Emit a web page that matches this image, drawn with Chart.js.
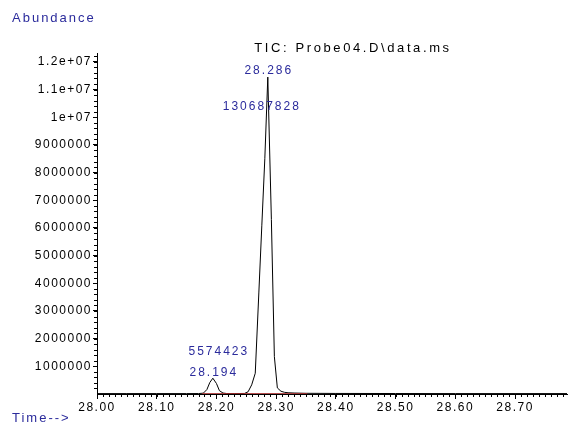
<!DOCTYPE html>
<html>
<head>
<meta charset="utf-8">
<script src="https://cdn.jsdelivr.net/npm/chart.js@4.4.1/dist/chart.umd.min.js"></script>
<style>
  html, body { margin: 0; padding: 0; background: #fff; }
  #wrap { width: 568px; height: 424px; position: relative; }
</style>
</head>
<body>
<div id="wrap"><canvas id="tic"></canvas></div>
<script>
// retention time (min) and abundance
const times = [28.000, 28.050, 28.100, 28.150, 28.170, 28.178, 28.184, 28.189, 28.194, 28.200, 28.205, 28.211, 28.217,
  28.230, 28.247, 28.253, 28.259, 28.265, 28.271, 28.276, 28.281, 28.286, 28.292, 28.297, 28.302, 28.308, 28.314,
  28.320, 28.330, 28.350, 28.400, 28.500, 28.600, 28.700, 28.787];
const abundance = [15000, 15000, 15000, 15000, 16000, 30000, 160000, 420000, 570000, 380000, 120000, 35000, 18000,
  15000, 20000, 80000, 330000, 750000, 3650000, 6100000, 8500000, 11450000, 6300000, 1350000, 220000, 100000, 60000,
  45000, 35000, 25000, 20000, 17000, 15000, 15000, 15000];

// integration baseline
const baseTimes = [28.176, 28.352];
const baseValues = [12000, 12000];

// peak annotations
const peakTimes = [28.194, 28.286];
const peakHeights = [570000, 11450000];
const peakAreas = ['5574423', '130687828'];

const xTicks = [28.0, 28.1, 28.2, 28.3, 28.4, 28.5, 28.6, 28.7];
const yTicks = [1000000, 2000000, 3000000, 4000000, 5000000, 6000000, 7000000, 8000000, 9000000, 10000000, 11000000, 12000000];
const yTickLabels = ['1000000', '2000000', '3000000', '4000000', '5000000', '6000000', '7000000', '8000000', '9000000',
  '1e+07', '1.1e+07', '1.2e+07'];

const blue = '#2b2b9c';
const FAMILY = '"Liberation Sans", Arial, sans-serif';

const extras = {
  id: 'extras',
  beforeDraw(chart) {
    chart.ctx.letterSpacing = '1.5px';
  },
  afterDraw(chart) {
    const ctx = chart.ctx;
    const xs = chart.scales.x, ys = chart.scales.y;
    ctx.save();
    ctx.strokeStyle = '#000';
    ctx.lineWidth = 1;
    // minor ticks
    ctx.beginPath();
    for (let i = 0; i <= 78; i++) {
      const px = Math.round(xs.getPixelForValue(28 + i * 0.01)) + 0.5;
      ctx.moveTo(px, xs.top);
      ctx.lineTo(px, xs.top + 3);
    }
    for (let i = 1; i <= 61; i++) {
      const py = Math.round(ys.getPixelForValue(i * 200000)) + 0.5;
      ctx.moveTo(ys.right, py);
      ctx.lineTo(ys.right - 3, py);
    }
    ctx.stroke();

    ctx.textBaseline = 'middle';
    // axis captions and title
    ctx.font = '13px ' + FAMILY;
    ctx.letterSpacing = '2px';
    ctx.fillStyle = blue;
    ctx.textAlign = 'left';
    ctx.fillText('Abundance', 12, 18);
    ctx.fillText('Time-->', 12, 418);
    ctx.letterSpacing = '2.6px';
    ctx.fillStyle = '#000';
    ctx.textAlign = 'center';
    ctx.fillText('TIC: Probe04.D\\data.ms', 353, 48);

    // peak labels
    ctx.font = '12px ' + FAMILY;
    ctx.letterSpacing = '2px';
    ctx.fillStyle = blue;
    peakTimes.forEach((t, i) => {
      const px = xs.getPixelForValue(t);
      const py = ys.getPixelForValue(peakHeights[i]);
      ctx.fillText(t.toFixed(3), px + 1, py - 6);
      ctx.fillText(peakAreas[i], px - (i === 1 ? 6 : -6), py + (i === 1 ? 30 : -27));
    });
    ctx.restore();
  }
};

new Chart(document.getElementById('tic'), {
  type: 'line',
  data: {
    datasets: [
      {
        data: baseTimes.map((t, i) => ({ x: t, y: baseValues[i] })),
        borderColor: '#a52a2a',
        borderWidth: 1,
        pointRadius: 0,
        tension: 0
      },
      {
        data: times.map((t, i) => ({ x: t, y: abundance[i] })),
        borderColor: '#000',
        borderWidth: 1,
        pointRadius: 0,
        tension: 0
      }
    ]
  },
  options: {
    responsive: true,
    maintainAspectRatio: false,
    animation: false,
    events: [],
    layout: { padding: { left: 0, right: 1, top: 53, bottom: 0 } },
    plugins: { legend: { display: false }, tooltip: { enabled: false } },
    scales: {
      x: {
        type: 'linear',
        min: 28.0,
        max: 28.787,
        afterBuildTicks: (s) => { s.ticks = xTicks.map(v => ({ value: v })); },
        afterFit: (s) => { s.height = 30; },
        border: { color: '#000', width: 1 },
        grid: { drawOnChartArea: false, tickLength: 5, tickColor: '#000' },
        ticks: {
          color: '#000',
          font: { family: FAMILY, size: 12 },
          padding: 1,
          maxRotation: 0,
          autoSkip: false,
          callback: (v) => v.toFixed(2)
        }
      },
      y: {
        min: 0,
        max: 12320000,
        afterBuildTicks: (s) => { s.ticks = yTicks.map(v => ({ value: v })); },
        afterFit: (s) => { s.width = 97; },
        border: { color: '#000', width: 1 },
        grid: { drawOnChartArea: false, tickLength: 4, tickColor: '#000' },
        ticks: {
          color: '#000',
          font: { family: FAMILY, size: 12 },
          padding: 1,
          autoSkip: false,
          callback: (v) => yTickLabels[yTicks.indexOf(v)]
        }
      }
    }
  },
  plugins: [extras]
});
</script>
</body>
</html>
